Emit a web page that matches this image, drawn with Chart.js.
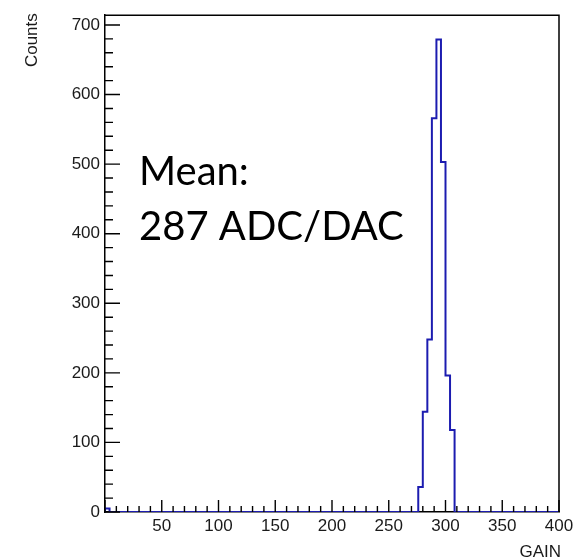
<!DOCTYPE html>
<html>
<head>
<meta charset="utf-8">
<script src="https://cdn.jsdelivr.net/npm/chart.js@4/dist/chart.umd.min.js"></script>
<style>
  html, body { margin: 0; padding: 0; background: #fff; }
  #wrap { width: 588px; height: 559px; }
</style>
</head>
<body>
<div id="wrap"><canvas id="gain-hist"></canvas></div>
<script>
(function () {
    "use strict";

    // Histogram binning: 100 bins of width 4 between 0 and 400
    const xMin = 0;
    const xMax = 400;
    const binWidth = 4;
    const yMax = 714;

    // Only the filled bins (lower edge -> counts), everything else is empty
    const binLow = [0, 276, 280, 284, 288, 292, 296, 300, 304];
    const binCounts = [5, 36, 144, 248, 566, 679, 503, 196, 118];

    const xTickLabels = [50, 100, 150, 200, 250, 300, 350, 400];
    const yTickLabels = [0, 100, 200, 300, 400, 500, 600, 700];

    const meanText = ["Mean:", "287 ADC/DAC"];

    // fill the full histogram
    const nBins = (xMax - xMin) / binWidth;
    const counts = new Array(nBins).fill(0);
    binLow.forEach((low, i) => {
        counts[Math.round((low - xMin) / binWidth)] = binCounts[i];
    });

    // outline points, one per lower bin edge, closed at the right end
    const points = [{ x: xMin, y: 0 }];
    counts.forEach((c, i) => points.push({ x: xMin + i * binWidth, y: c }));
    points.push({ x: xMax, y: 0 });

    const axisFont = { family: "'Liberation Sans', Arial, sans-serif", size: 17 };

    // inward ticks, frame and text the way ROOT draws them
    const rootFrame = {
        id: "rootFrame",
        afterDatasetsDraw(chart) {
            const { ctx, chartArea: a, scales } = chart;
            ctx.save();
            ctx.strokeStyle = "#000";
            ctx.lineWidth = 1.5;

            ctx.beginPath();
            ctx.moveTo(a.left, a.top);
            ctx.lineTo(a.right, a.top);
            ctx.lineTo(a.right, a.bottom);
            ctx.stroke();

            ctx.lineWidth = 1.4;
            ctx.beginPath();
            for (let v = xMin; v <= xMax; v += 10) {
                const px = scales.x.getPixelForValue(v);
                const len = v % 50 === 0 ? 12 : 6;
                ctx.moveTo(px, a.bottom);
                ctx.lineTo(px, a.bottom - len);
            }
            for (let v = 0; v <= yMax; v += 20) {
                const py = scales.y.getPixelForValue(v);
                const len = v % 100 === 0 ? 15 : 8;
                ctx.moveTo(a.left, py);
                ctx.lineTo(a.left + len, py);
            }
            ctx.stroke();

            ctx.fillStyle = "#1a1a1a";
            ctx.font = "17px 'Liberation Sans', Arial, sans-serif";
            ctx.textAlign = "right";
            ctx.textBaseline = "alphabetic";
            ctx.fillText("GAIN", a.right + 2, 557);

            ctx.save();
            ctx.translate(37, a.top - 2);
            ctx.rotate(-Math.PI / 2);
            ctx.textAlign = "right";
            ctx.fillText("Counts", 0, 0);
            ctx.restore();

            ctx.fillStyle = "#000";
            ctx.font = "40px Lato, 'Open Sans', sans-serif";
            ctx.textAlign = "left";
            ctx.fillText(meanText[0], 139, 185);
            ctx.fillText(meanText[1], 139, 240);
            ctx.restore();
        },
    };

    const ctx = document.getElementById("gain-hist").getContext("2d");
    new Chart(ctx, {
        type: "line",
        data: {
            datasets: [
                {
                    data: points,
                    stepped: "before",
                    borderColor: "#1c1cb0",
                    borderWidth: 2,
                    pointRadius: 0,
                    fill: false,
                },
            ],
        },
        options: {
            responsive: true,
            maintainAspectRatio: false,
            animation: false,
            layout: {
                padding: { top: 8, right: 29, left: 0, bottom: 0 },
            },
            plugins: {
                legend: { display: false },
                tooltip: { enabled: false },
            },
            scales: {
                x: {
                    type: "linear",
                    min: xMin,
                    max: xMax,
                    z: 1,
                    afterFit: (scale) => { scale.height = 47; },
                    afterBuildTicks: (scale) => {
                        scale.ticks = xTickLabels.map((v) => ({ value: v }));
                    },
                    grid: { display: false, drawTicks: false, tickLength: 0 },
                    border: { display: true, color: "#000", width: 1.5 },
                    ticks: {
                        color: "#1a1a1a",
                        font: axisFont,
                        padding: 4,
                        maxRotation: 0,
                        autoSkip: false,
                    },
                },
                y: {
                    type: "linear",
                    min: 0,
                    max: yMax,
                    z: 1,
                    afterFit: (scale) => { scale.width = 105; },
                    afterBuildTicks: (scale) => {
                        scale.ticks = yTickLabels.map((v) => ({ value: v }));
                    },
                    grid: { display: false, drawTicks: false, tickLength: 0 },
                    border: { display: true, color: "#000", width: 1.5 },
                    ticks: {
                        color: "#1a1a1a",
                        font: axisFont,
                        padding: 5,
                        autoSkip: false,
                    },
                },
            },
        },
        plugins: [rootFrame],
    });
})();
</script>
</body>
</html>
